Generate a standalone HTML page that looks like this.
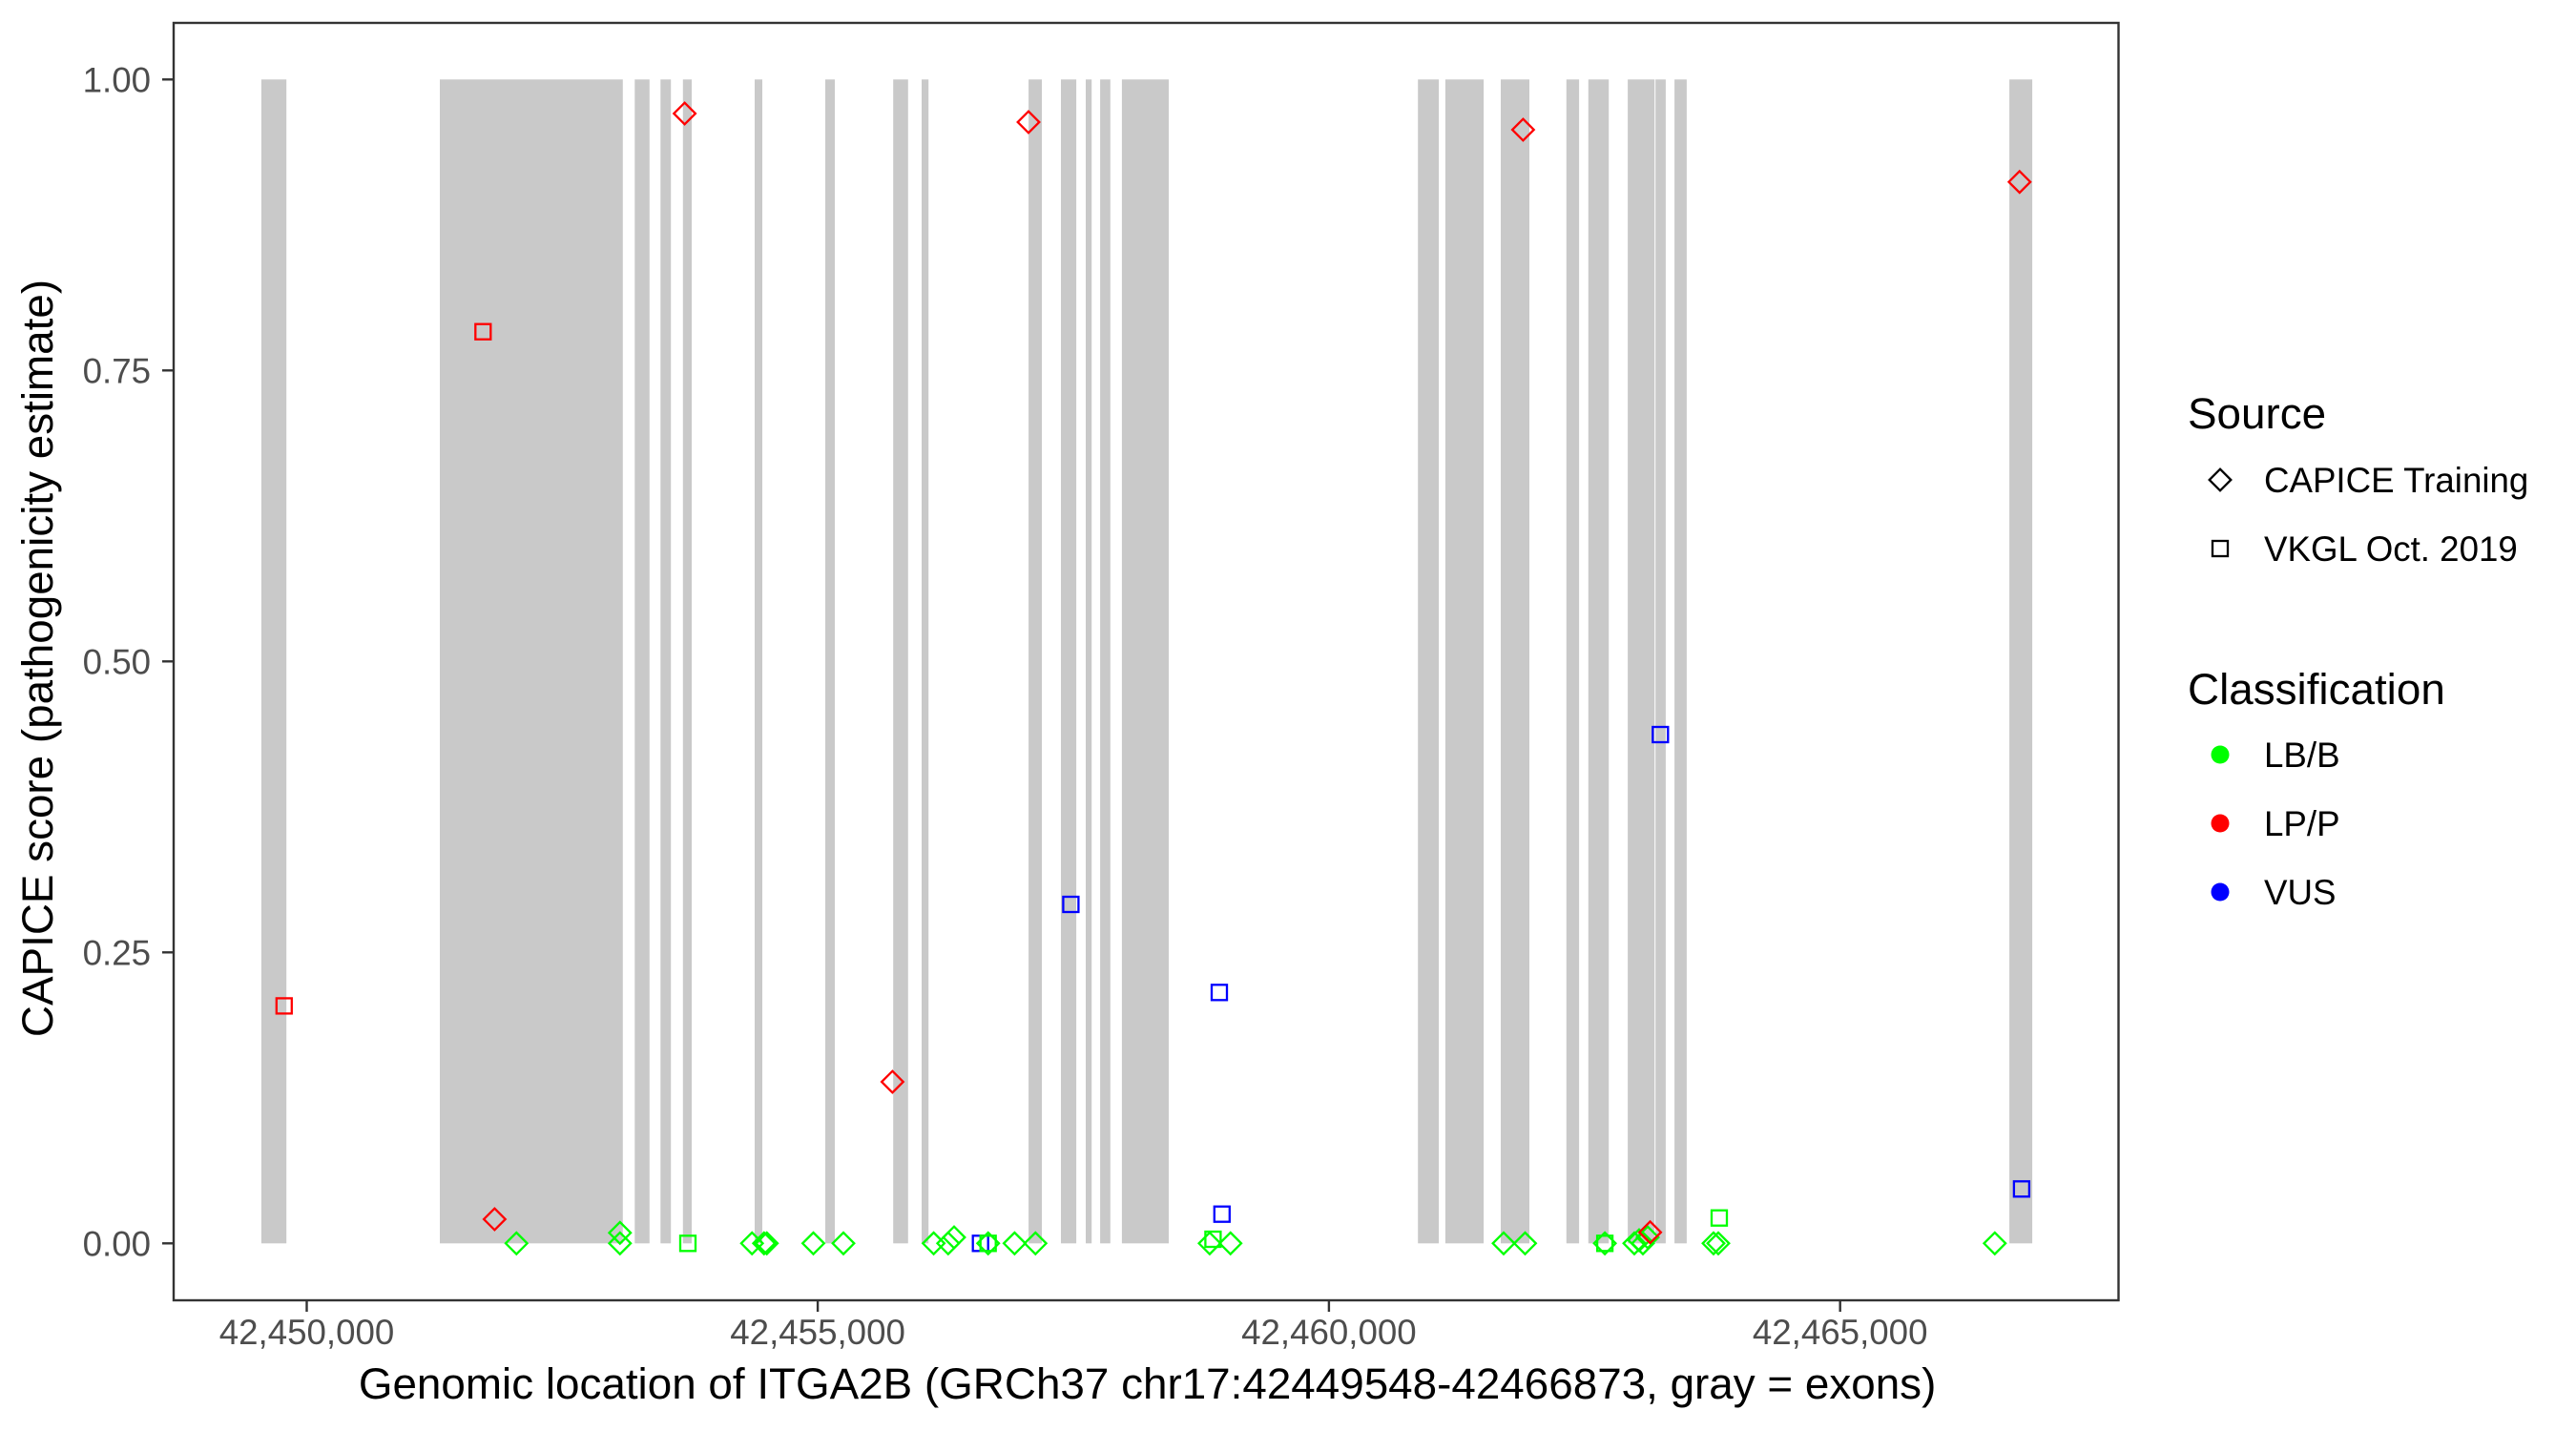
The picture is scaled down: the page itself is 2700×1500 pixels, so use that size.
<!DOCTYPE html>
<html>
<head>
<meta charset="utf-8">
<style>
  html, body { margin:0; padding:0; background:#ffffff; }
  svg { display:block; }
  text { font-family: "Liberation Sans", Arial, sans-serif; }
</style>
</head>
<body>
<svg width="2700" height="1500" viewBox="0 0 2700 1500" xmlns="http://www.w3.org/2000/svg">
  <rect x="0" y="0" width="2700" height="1500" fill="#ffffff"/>

  <!-- exons -->
  <g fill="#C9C9C9">
    <rect x="273.9" y="83.3" width="26.3" height="1220"/>
    <rect x="461" y="83.3" width="191.8" height="1220"/>
    <rect x="665.3" y="83.3" width="15.5" height="1220"/>
    <rect x="692.3" y="83.3" width="10.9" height="1220"/>
    <rect x="715.8" y="83.3" width="9.2" height="1220"/>
    <rect x="791" y="83.3" width="8" height="1220"/>
    <rect x="865" y="83.3" width="10" height="1220"/>
    <rect x="936.2" y="83.3" width="15.6" height="1220"/>
    <rect x="966" y="83.3" width="7.2" height="1220"/>
    <rect x="1078.1" y="83.3" width="13.9" height="1220"/>
    <rect x="1112" y="83.3" width="16.1" height="1220"/>
    <rect x="1138" y="83.3" width="6.2" height="1220"/>
    <rect x="1153.1" y="83.3" width="10.7" height="1220"/>
    <rect x="1175.9" y="83.3" width="49.1" height="1220"/>
    <rect x="1486.2" y="83.3" width="21.9" height="1220"/>
    <rect x="1514.9" y="83.3" width="40.2" height="1220"/>
    <rect x="1573" y="83.3" width="30" height="1220"/>
    <rect x="1641.8" y="83.3" width="13.3" height="1220"/>
    <rect x="1664.8" y="83.3" width="21.4" height="1220"/>
    <rect x="1706.1" y="83.3" width="28.1" height="1220"/>
    <rect x="1735.2" y="83.3" width="10.7" height="1220"/>
    <rect x="1755.1" y="83.3" width="12.8" height="1220"/>
    <rect x="2106.1" y="83.3" width="24" height="1220"/>
  </g>

  <!-- blue squares (VUS, VKGL) -->
  <g fill="none" stroke="#0000FF" stroke-width="2.3">
    <rect x="1114.4" y="940" width="16" height="16"/>
    <rect x="1270" y="1032.3" width="16" height="16"/>
    <rect x="1732.3" y="762" width="16" height="16"/>
    <rect x="1272.8" y="1264.7" width="16" height="16"/>
    <rect x="2110.9" y="1238.3" width="16" height="16"/>
    <rect x="1019.7" y="1295.3" width="16" height="16"/>
  </g>

  <!-- green diamonds (LB/B, CAPICE) -->
  <g fill="none" stroke="#00FF00" stroke-width="2.3">
    <polygon points="541.3,1292 552.6,1303.3 541.3,1314.6 530,1303.3"/>
    <polygon points="649.8,1292 661.1,1303.3 649.8,1314.6 638.5,1303.3"/>
    <polygon points="649.8,1281 661.1,1292.3 649.8,1303.6 638.5,1292.3"/>
    <polygon points="788.2,1292 799.5,1303.3 788.2,1314.6 776.9,1303.3"/>
    <polygon points="800.8,1292 812.1,1303.3 800.8,1314.6 789.5,1303.3"/>
    <polygon points="803.7,1292 815,1303.3 803.7,1314.6 792.4,1303.3"/>
    <polygon points="852.5,1292 863.8,1303.3 852.5,1314.6 841.2,1303.3"/>
    <polygon points="884,1292 895.3,1303.3 884,1314.6 872.7,1303.3"/>
    <polygon points="978.6,1292 989.9,1303.3 978.6,1314.6 967.3,1303.3"/>
    <polygon points="993.8,1292 1005.1,1303.3 993.8,1314.6 982.5,1303.3"/>
    <polygon points="1000,1285.7 1011.3,1297 1000,1308.3 988.7,1297"/>
    <polygon points="1035.7,1292 1047,1303.3 1035.7,1314.6 1024.4,1303.3"/>
    <polygon points="1063.4,1292 1074.7,1303.3 1063.4,1314.6 1052.1,1303.3"/>
    <polygon points="1085.3,1292 1096.6,1303.3 1085.3,1314.6 1074,1303.3"/>
    <polygon points="1267.9,1292 1279.2,1303.3 1267.9,1314.6 1256.6,1303.3"/>
    <polygon points="1289.7,1292 1301,1303.3 1289.7,1314.6 1278.4,1303.3"/>
    <polygon points="1576,1292 1587.3,1303.3 1576,1314.6 1564.7,1303.3"/>
    <polygon points="1598.5,1292 1609.8,1303.3 1598.5,1314.6 1587.2,1303.3"/>
    <polygon points="1682.1,1292 1693.4,1303.3 1682.1,1314.6 1670.8,1303.3"/>
    <polygon points="1713,1292 1724.3,1303.3 1713,1314.6 1701.7,1303.3"/>
    <polygon points="1718,1288.7 1729.3,1300 1718,1311.3 1706.7,1300"/>
    <polygon points="1722,1292 1733.3,1303.3 1722,1314.6 1710.7,1303.3"/>
    <polygon points="1727,1285.7 1738.3,1297 1727,1308.3 1715.7,1297"/>
    <polygon points="1796,1292 1807.3,1303.3 1796,1314.6 1784.7,1303.3"/>
    <polygon points="1801,1292 1812.3,1303.3 1801,1314.6 1789.7,1303.3"/>
    <polygon points="2090.8,1292 2102.1,1303.3 2090.8,1314.6 2079.5,1303.3"/>
  </g>

  <!-- green squares (LB/B, VKGL) -->
  <g fill="none" stroke="#00FF00" stroke-width="2.3">
    <rect x="713" y="1295.3" width="16" height="16"/>
    <rect x="1027.7" y="1295.3" width="16" height="16"/>
    <rect x="1263.4" y="1291" width="16" height="16"/>
    <rect x="1674.1" y="1295.3" width="16" height="16"/>
    <rect x="1794" y="1268.7" width="16" height="16"/>
  </g>

  <!-- red diamonds (LP/P, CAPICE) -->
  <g fill="none" stroke="#FF0000" stroke-width="2.3">
    <polygon points="717.6,107.7 728.9,119 717.6,130.3 706.3,119"/>
    <polygon points="1078,116.7 1089.3,128 1078,139.3 1066.7,128"/>
    <polygon points="1596.4,124.7 1607.7,136 1596.4,147.3 1585.1,136"/>
    <polygon points="2116.8,179.4 2128.1,190.7 2116.8,202 2105.5,190.7"/>
    <polygon points="935.4,1122.7 946.7,1134 935.4,1145.3 924.1,1134"/>
    <polygon points="518.4,1266.7 529.7,1278 518.4,1289.3 507.1,1278"/>
    <polygon points="1729.6,1280.4 1740.9,1291.7 1729.6,1303 1718.3,1291.7"/>
  </g>

  <!-- red squares (LP/P, VKGL) -->
  <g fill="none" stroke="#FF0000" stroke-width="2.3">
    <rect x="289.8" y="1046.4" width="16" height="16"/>
    <rect x="498.3" y="339.7" width="16" height="16"/>
  </g>

  <!-- panel border -->
  <rect x="182" y="24" width="2038.5" height="1339" fill="none" stroke="#333333" stroke-width="2.4"/>

  <!-- y ticks -->
  <g stroke="#333333" stroke-width="2.4">
    <line x1="170" y1="83.3" x2="182" y2="83.3"/>
    <line x1="170" y1="388.3" x2="182" y2="388.3"/>
    <line x1="170" y1="693.3" x2="182" y2="693.3"/>
    <line x1="170" y1="998.3" x2="182" y2="998.3"/>
    <line x1="170" y1="1303.3" x2="182" y2="1303.3"/>
  </g>
  <g font-size="36.7" fill="#4D4D4D" text-anchor="end">
    <text x="158" y="96.3">1.00</text>
    <text x="158" y="401.3">0.75</text>
    <text x="158" y="706.3">0.50</text>
    <text x="158" y="1011.3">0.25</text>
    <text x="158" y="1316.3">0.00</text>
  </g>

  <!-- x ticks -->
  <g stroke="#333333" stroke-width="2.4">
    <line x1="321.5" y1="1363" x2="321.5" y2="1375"/>
    <line x1="857.1" y1="1363" x2="857.1" y2="1375"/>
    <line x1="1392.9" y1="1363" x2="1392.9" y2="1375"/>
    <line x1="1928.7" y1="1363" x2="1928.7" y2="1375"/>
  </g>
  <g font-size="36.7" fill="#4D4D4D" text-anchor="middle">
    <text x="321.5" y="1409">42,450,000</text>
    <text x="857.1" y="1409">42,455,000</text>
    <text x="1392.9" y="1409">42,460,000</text>
    <text x="1928.7" y="1409">42,465,000</text>
  </g>

  <!-- axis titles -->
  <text x="1202.6" y="1466" font-size="45.8" fill="#000000" text-anchor="middle">Genomic location of ITGA2B (GRCh37 chr17:42449548-42466873, gray = exons)</text>
  <text transform="translate(55,690) rotate(-90)" x="0" y="0" font-size="45.8" fill="#000000" text-anchor="middle">CAPICE score (pathogenicity estimate)</text>

  <!-- legend: Source -->
  <text x="2293" y="449" font-size="45.8" fill="#000000">Source</text>
  <polygon points="2327,491.7 2338.3,503 2327,514.3 2315.7,503" fill="none" stroke="#000000" stroke-width="2.3"/>
  <text x="2373" y="516" font-size="36.7" fill="#000000">CAPICE Training</text>
  <rect x="2319" y="567" width="16" height="16" fill="none" stroke="#000000" stroke-width="2.3"/>
  <text x="2373" y="588" font-size="36.7" fill="#000000">VKGL Oct. 2019</text>

  <!-- legend: Classification -->
  <text x="2293" y="738" font-size="45.8" fill="#000000">Classification</text>
  <circle cx="2327" cy="791" r="9.5" fill="#00FF00"/>
  <text x="2373" y="804" font-size="36.7" fill="#000000">LB/B</text>
  <circle cx="2327" cy="863" r="9.5" fill="#FF0000"/>
  <text x="2373" y="876" font-size="36.7" fill="#000000">LP/P</text>
  <circle cx="2327" cy="935" r="9.5" fill="#0000FF"/>
  <text x="2373" y="948" font-size="36.7" fill="#000000">VUS</text>
</svg>
</body>
</html>
